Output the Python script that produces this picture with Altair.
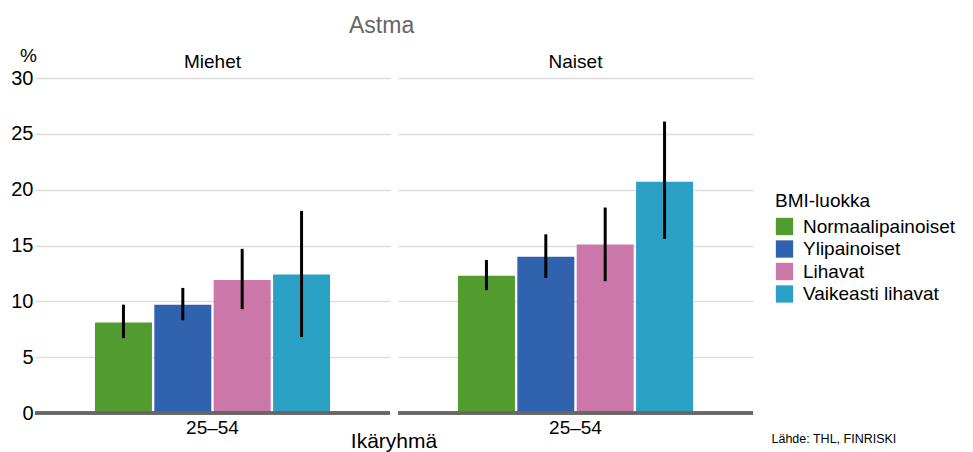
import altair as alt
import pandas as pd

sexes = ["Miehet"] * 4 + ["Naiset"] * 4
ages = ["25–54"] * 8
bmi_order = ["Normaalipainoiset", "Ylipainoiset", "Lihavat", "Vaikeasti lihavat"]
bmis = bmi_order * 2
values = [8.1, 9.7, 11.9, 12.4, 12.3, 14.0, 15.1, 20.7]
lows = [6.7, 8.3, 9.3, 6.8, 11.0, 12.1, 11.8, 15.6]
highs = [9.7, 11.2, 14.7, 18.1, 13.7, 16.0, 18.4, 26.1]
colors = ["#529b2f", "#3062ad", "#cb77a9", "#2aa1c4"]
source_text = "Lähde: THL, FINRISKI"

df = pd.DataFrame({"sex": sexes, "age": ages, "bmi": bmis,
                   "value": values, "lo": lows, "hi": highs,
                   "src": [source_text] * 8})

FONT = "Liberation Sans"

x_enc = alt.X("age:N", title=None,
              scale=alt.Scale(paddingInner=0, paddingOuter=0.255),
              axis=alt.Axis(labelFontSize=19, labelColor="#000", ticks=False,
                            domain=False, labelPadding=5,
                            labelAngle=0, labelFont=FONT))
xo_enc = alt.XOffset("bmi:N", sort=bmi_order, scale=alt.Scale(paddingInner=0.04))

bars = alt.Chart().mark_bar().encode(
    x=x_enc,
    xOffset=xo_enc,
    y=alt.Y("value:Q", scale=alt.Scale(domain=[0, 30]),
            axis=alt.Axis(values=[0, 5, 10, 15, 20, 25, 30], title="%",
                          titleAngle=0, titleX=-7, titleY=-23,
                          titleAlign="center", titleBaseline="middle",
                          titleFontSize=19, titleFontWeight="normal",
                          titleFont=FONT, titleColor="#000",
                          labelFontSize=20, labelFont=FONT, labelColor="#000",
                          labelPadding=2,
                          domain=False, ticks=False, gridColor="#dddddd",
                          gridWidth=1.5)),
    color=alt.Color("bmi:N", sort=bmi_order,
                    scale=alt.Scale(domain=bmi_order, range=colors),
                    legend=alt.Legend(title="BMI-luokka", orient="none",
                                      legendX=740, legendY=114,
                                      titleFontSize=19, titleFontWeight="normal",
                                      titleFont=FONT, titleColor="#000",
                                      labelFontSize=19, labelFont=FONT,
                                      labelColor="#000",
                                      symbolType="square", symbolSize=300,
                                      symbolStrokeWidth=0, rowPadding=2.5,
                                      titlePadding=6, labelOffset=9)),
)

rules = alt.Chart().mark_rule(strokeWidth=3, color="black").encode(
    x=x_enc,
    xOffset=xo_enc,
    y="lo:Q",
    y2="hi:Q",
)

baseline = alt.Chart().mark_rule(strokeWidth=3, color="#666").encode(
    y=alt.datum(0))

note = alt.Chart().mark_point(opacity=0).encode(
    x=x_enc,
    y="value:Q",
    shape=alt.Shape("src:N",
                    legend=alt.Legend(title=None, orient="none",
                                      legendX=724, legendY=355,
                                      labelFontSize=12.5, labelFont=FONT,
                                      labelColor="#000", symbolOpacity=0,
                                      symbolSize=1, symbolStrokeWidth=0,
                                      labelOffset=0, labelLimit=300)),
)

chart = alt.layer(bars, rules, baseline, note, data=df).properties(
    width=355, height=335
).facet(
    column=alt.Column("sex:N", title="Ikäryhmä",
                      header=alt.Header(labelOrient="top", titleOrient="bottom",
                                        labelFontSize=19, labelFont=FONT,
                                        labelColor="#000", labelPadding=6,
                                        titleFontSize=21, titleFont=FONT,
                                        titleFontWeight="normal",
                                        titleColor="#000", titlePadding=-16)),
    spacing=8,
).properties(
    bounds="flush",
    padding={"top": 7, "left": 2, "right": 5, "bottom": 5},
    title=alt.TitleParams("Astma", fontSize=23, color="#666", font=FONT,
                          fontWeight="normal", anchor="start", frame="group",
                          dx=314, offset=8)
).configure_view(stroke=None)

chart.save("out.html", embed_options={"renderer": "svg", "actions": False})
